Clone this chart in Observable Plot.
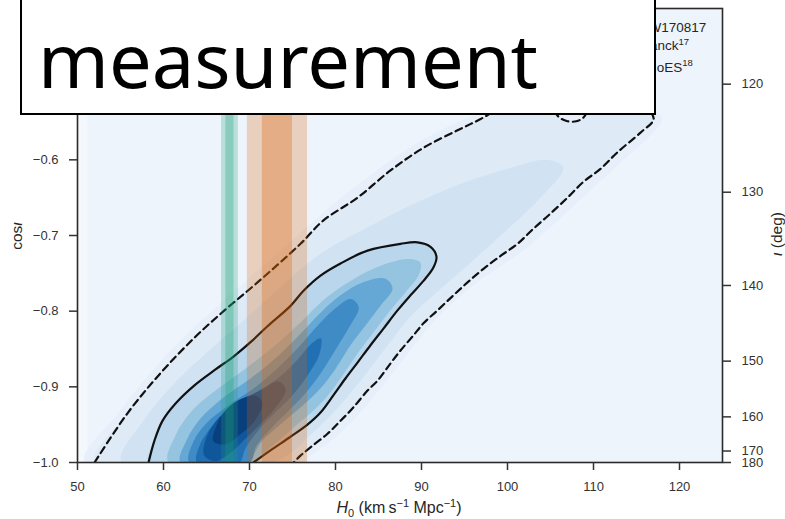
<!DOCTYPE html>
<html><head><meta charset="utf-8">
<script src="https://cdn.jsdelivr.net/npm/d3@7"></script>
<script src="https://cdn.jsdelivr.net/npm/@observablehq/plot@0.6"></script>
<style>
html,body{margin:0;padding:0;background:#fff;}
#chart{width:785px;height:519px;overflow:hidden;}
</style></head>
<body><div id="chart"></div>
<script>
// ---- axis ticks ----
const H0Ticks = [50, 60, 70, 80, 90, 100, 110, 120];
const cosTicks = [-1.0, -0.9, -0.8, -0.7, -0.6];
const iotaTicks = [120, 130, 140, 150, 160, 170, 180];

// ---- H0 bands (km/s/Mpc): [low, high] ----
const planck1 = [67.25, 68.2];
const planck2 = [66.75, 68.7];
const shoes1 = [71.5, 75.0];
const shoes2 = [69.75, 76.75];
const gridEdge = [50, 51.2];

// ---- legend ----
const legendNames = ["GW170817", "Planck", "SHoES"];
const legendRefs = ["", "17", "18"];

// ---- contours [H0, cos iota] ----
const dashed90 = [[51.98,-1.0],[55.81,-0.935],[59.65,-0.882],[63.60,-0.835],[67.09,-0.799],[70.93,-0.762],[75.93,-0.711],[78.60,-0.680],[82.56,-0.650],[86.40,-0.614],[90.23,-0.584],[94.19,-0.561],[97.21,-0.544],[101.5,-0.515],[104.5,-0.52],[105.93,-0.543],[106.98,-0.549],[108.0,-0.549],[108.84,-0.544],[110.5,-0.515],[115.0,-0.510],[116.6,-0.535],[116.98,-0.547],[115.47,-0.564],[112.79,-0.590],[110.81,-0.612],[108.84,-0.629],[106.98,-0.650],[105.0,-0.671],[103.02,-0.691],[101.16,-0.711],[99.19,-0.727],[97.21,-0.744],[95.35,-0.762],[93.72,-0.779],[91.86,-0.799],[90.23,-0.816],[89.07,-0.832],[87.56,-0.852],[86.40,-0.869],[84.88,-0.892],[83.72,-0.905],[82.09,-0.927],[80.58,-0.945],[79.07,-0.962],[77.09,-0.980],[75.93,-0.991],[75.12,-1.0]];
const solid50 = [[58.26,-1.0],[58.95,-0.971],[59.88,-0.945],[61.40,-0.922],[63.60,-0.898],[66.05,-0.877],[68.14,-0.860],[70.12,-0.841],[72.09,-0.820],[74.77,-0.793],[76.28,-0.773],[78.26,-0.753],[80.58,-0.737],[83.72,-0.720],[87.56,-0.711],[89.53,-0.709],[91.05,-0.715],[91.74,-0.728],[91.40,-0.742],[90.23,-0.760],[88.72,-0.779],[87.21,-0.799],[85.58,-0.823],[84.07,-0.845],[82.56,-0.868],[81.16,-0.889],[79.77,-0.911],[78.26,-0.934],[76.74,-0.950],[74.77,-0.966],[72.44,-0.984],[70.47,-1.0]];

// ---- density levels (outer -> inner) ----
const level1 = [[50.81,-1.0],[54.77,-0.934],[58.72,-0.878],[62.91,-0.828],[66.63,-0.790],[70.58,-0.750],[75.47,-0.701],[81.98,-0.638],[89.88,-0.575],[96.86,-0.538],[103.84,-0.522],[110.81,-0.522],[116.63,-0.532],[118.02,-0.546],[116.63,-0.568],[113.72,-0.598],[109.65,-0.641],[105.58,-0.683],[101.51,-0.723],[97.44,-0.754],[93.95,-0.786],[91.05,-0.819],[88.49,-0.855],[85.81,-0.894],[82.91,-0.934],[80.0,-0.967],[77.09,-0.991],[76.16,-1.0]];
const level3 = [[55.12,-1.0],[57.91,-0.941],[61.63,-0.891],[65.81,-0.847],[69.53,-0.810],[73.60,-0.768],[78.26,-0.724],[84.07,-0.687],[89.88,-0.654],[95.70,-0.627],[100.5,-0.610],[104.5,-0.600],[106.5,-0.610],[103.84,-0.650],[99.19,-0.700],[95.70,-0.736],[91.98,-0.773],[88.72,-0.807],[85.81,-0.849],[82.91,-0.892],[80.0,-0.931],[76.86,-0.966],[72.79,-1.0]];
const level5 = [[60.58,-1.0],[61.40,-0.964],[63.37,-0.931],[66.05,-0.905],[69.53,-0.876],[73.02,-0.845],[75.93,-0.815],[78.84,-0.783],[81.74,-0.760],[85.23,-0.740],[88.49,-0.731],[89.88,-0.736],[89.65,-0.753],[88.14,-0.775],[86.16,-0.802],[84.30,-0.830],[82.56,-0.856],[80.81,-0.885],[79.07,-0.912],[77.09,-0.935],[75.0,-0.955],[72.67,-0.978],[70.12,-1.0]];
const level6 = [[61.98,-1.0],[62.67,-0.971],[64.30,-0.942],[66.86,-0.915],[70.12,-0.889],[73.37,-0.859],[75.93,-0.830],[78.26,-0.802],[80.58,-0.779],[83.14,-0.762],[85.81,-0.757],[86.63,-0.770],[85.23,-0.793],[83.49,-0.819],[81.74,-0.845],[80.0,-0.876],[78.26,-0.902],[76.16,-0.925],[73.84,-0.947],[71.51,-0.971],[69.53,-1.0]];
const level7 = [[63.0,-1.0],[63.5,-0.972],[65.0,-0.948],[67.5,-0.925],[70.5,-0.902],[73.2,-0.876],[75.6,-0.849],[77.7,-0.822],[79.8,-0.798],[81.8,-0.784],[82.7,-0.795],[81.6,-0.821],[80.0,-0.851],[78.4,-0.880],[76.6,-0.907],[74.6,-0.931],[72.5,-0.955],[70.8,-0.978],[70.0,-1.0]];
const level8 = [[63.9,-1.0],[64.3,-0.975],[65.8,-0.950],[68.0,-0.927],[71.0,-0.906],[73.6,-0.886],[75.6,-0.864],[77.2,-0.843],[78.3,-0.836],[78.1,-0.858],[76.8,-0.884],[75.0,-0.911],[72.9,-0.935],[71.0,-0.958],[69.5,-0.982],[68.8,-1.0]];
const level9 = [[64.7,-0.99],[65.1,-0.964],[66.5,-0.940],[68.6,-0.920],[71.2,-0.905],[73.4,-0.893],[74.2,-0.904],[73.0,-0.928],[71.2,-0.950],[69.4,-0.970],[67.6,-0.989],[66.0,-0.998]];
const level10 = [[65.8,-0.972],[66.2,-0.950],[67.3,-0.930],[69.0,-0.916],[70.8,-0.912],[71.5,-0.922],[70.6,-0.945],[69.0,-0.962],[67.3,-0.976]];

const levels = [level1, dashed90, level3, solid50, level5, level6, level7, level8, level9, level10];
const levelColors = ["#e7f0fa", "#deeaf6", "#d1e3f3", "#b9d6ec", "#94c4e0", "#65a7d5", "#3e8bc6", "#2170b3", "#0f569b", "#08407e"];

const gx = d => d[0], gy = d => d[1];
const yTop = -0.4, yBot = -1.0;
const band = (b, color, op) => Plot.rect([b], {x1: d => d[0], x2: d => d[1], y1: yBot, y2: yTop, fill: color, fillOpacity: op});

const plot = Plot.plot({
  width: 785, height: 519,
  marginLeft: 77, marginRight: 63, marginTop: 8, marginBottom: 57,
  x: {domain: [50, 125]},
  y: {domain: [yBot, yTop]},
  style: {background: "#fff", fontFamily: "'Liberation Sans', Arial, sans-serif", fontSize: "13px", color: "#333"},
  marks: [
    Plot.frame({fill: "#eef4fc", stroke: "none"}),
    Plot.rect([gridEdge], {x1: d => d[0], x2: d => d[1], y1: yBot, y2: yTop, fill: "#f4f8fd"}),
    ...levels.map((lv, i) => Plot.line(lv, {x: gx, y: gy, fill: levelColors[i], stroke: "none", curve: "catmull-rom-closed", clip: true})),
    Plot.line(dashed90, {x: gx, y: gy, stroke: "#111", strokeWidth: 2.2, strokeDasharray: "7,4.5", curve: "catmull-rom", clip: true}),
    Plot.line(solid50, {x: gx, y: gy, stroke: "#111", strokeWidth: 2.2, curve: "catmull-rom", clip: true}),
    band(planck2, "#1b9e77", 0.25),
    band(planck1, "#1b9e77", 0.3),
    band(shoes2, "#d95f02", 0.25),
    band(shoes1, "#d95f02", 0.3),
    Plot.frame({stroke: "#2a2a2a", strokeWidth: 1.6}),
    Plot.axisX({ticks: H0Ticks, tickSize: 8, tickPadding: 11, strokeWidth: 1.5, label: null, tickFormat: d => String(d)}),
    Plot.axisY({ticks: cosTicks, tickSize: 8, tickPadding: 11, strokeWidth: 1.5, label: null, tickFormat: d3.format(".1f")}),
    Plot.axisY({anchor: "right", ticks: iotaTicks.map(d => Math.cos(d * Math.PI / 180)), tickSize: 8, tickPadding: 11, strokeWidth: 1.5, label: null,
      tickFormat: d => String(Math.round(Math.acos(d) * 180 / Math.PI))})
  ]
});
document.getElementById("chart").appendChild(plot);

const svg = d3.select(plot);
const labelColor = "#262626";
// x label
const xl = svg.append("text").attr("x", 399).attr("y", 513).attr("text-anchor", "middle")
  .attr("font-size", 16).attr("fill", labelColor);
xl.append("tspan").attr("font-style", "italic").text("H");
xl.append("tspan").attr("dy", 3.5).attr("font-size", 11).text("0");
xl.append("tspan").attr("dy", -3.5).text(" (km\u2009s");
xl.append("tspan").attr("dy", -6).attr("font-size", 11).text("\u22121");
xl.append("tspan").attr("dy", 6).text(" Mpc");
xl.append("tspan").attr("dy", -6).attr("font-size", 11).text("\u22121");
xl.append("tspan").attr("dy", 6).text(")");
// left y label
const yl = svg.append("text").attr("transform", "translate(22,236) rotate(-90)").attr("text-anchor", "middle")
  .attr("font-size", 15.5).attr("fill", labelColor);
yl.append("tspan").text("cos");
yl.append("tspan").attr("font-style", "italic").text("\u03b9");
// right y label
const yr = svg.append("text").attr("transform", "translate(782,234) rotate(-90)").attr("text-anchor", "middle")
  .attr("font-size", 15.5).attr("fill", labelColor);
yr.append("tspan").attr("font-style", "italic").text("\u03b9");
yr.append("tspan").text(" (deg)");
// legend text
const legY = [31.7, 50, 71.7];
legendNames.forEach((n, i) => {
  const t = svg.append("text").attr("x", 638).attr("y", legY[i]).attr("text-anchor", "start")
    .attr("font-size", 13.5).attr("fill", labelColor);
  t.append("tspan").text(n);
  if (legendRefs[i]) t.append("tspan").attr("dy", -5.5).attr("font-size", 9.5).text(legendRefs[i]);
});
// overlay box
svg.append("rect").attr("x", 21).attr("y", -40).attr("width", 634).attr("height", 154)
  .attr("fill", "#fff").attr("stroke", "#000").attr("stroke-width", 2);
svg.append("text").attr("x", 38).attr("y", 88).attr("text-anchor", "start").attr("font-family", "'Noto Sans', sans-serif")
  .attr("font-size", 75).attr("fill", "#000").attr("textLength", 500).attr("lengthAdjust", "spacingAndGlyphs")
  .text("measurement");
</script>
</body></html>
